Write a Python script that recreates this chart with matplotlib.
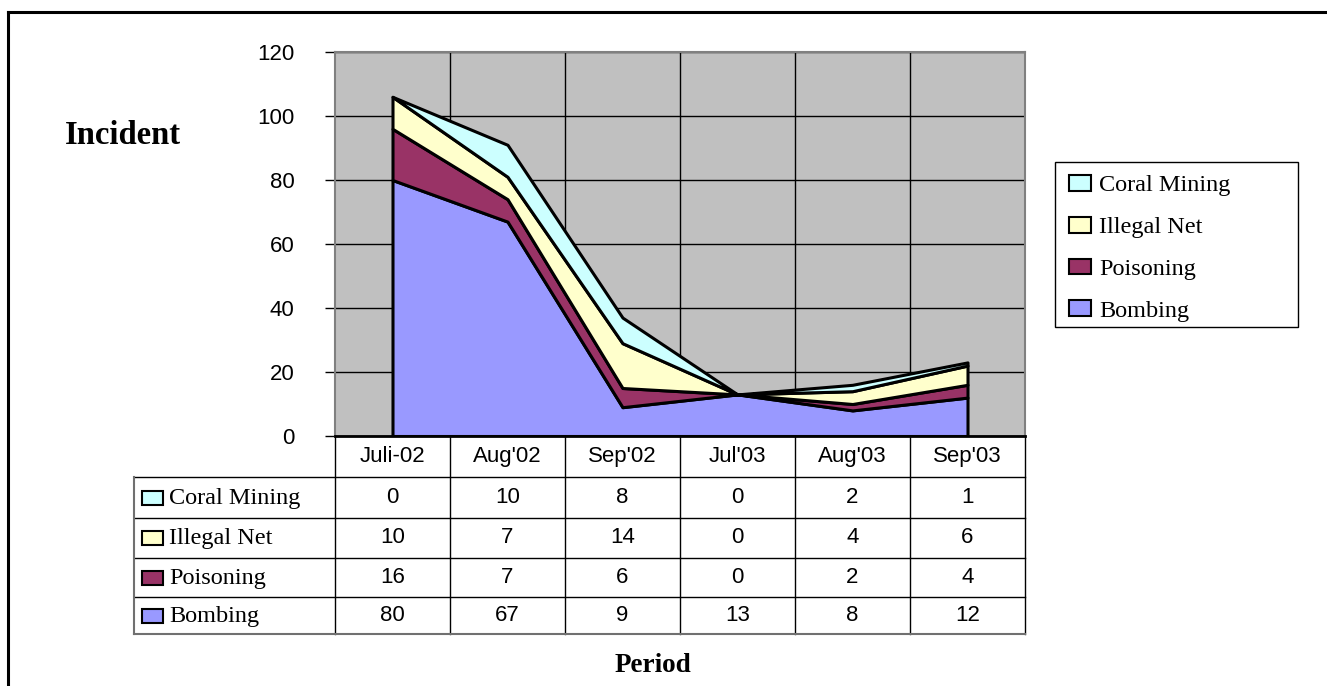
import matplotlib
matplotlib.use("Agg")
import matplotlib.pyplot as plt
import numpy as np
from matplotlib.patches import Patch, Rectangle
from matplotlib.lines import Line2D

# data
periods = ["Juli-02", "Aug'02", "Sep'02", "Jul'03", "Aug'03", "Sep'03"]
series = ["Bombing", "Poisoning", "Illegal Net", "Coral Mining"]
bombing = [80, 67, 9, 13, 8, 12]
poisoning = [16, 7, 6, 0, 2, 4]
illegal_net = [10, 7, 14, 0, 4, 6]
coral_mining = [0, 10, 8, 0, 2, 1]
colors = ["#9999FF", "#993366", "#FFFFCC", "#CCFFFF"]

W, H = 1327, 686
serif = "Liberation Serif"
sans = "Liberation Sans"

def box(l, t, r, b):
    return [l / W, 1 - b / H, (r - l) / W, (b - t) / H]

fig = plt.figure(figsize=(W / 100, H / 100), dpi=100)

# main area chart
ax = fig.add_axes(box(335, 52, 1025, 436))
x = np.arange(len(periods))
vals = [bombing, poisoning, illegal_net, coral_mining]
ax.stackplot(x, vals, colors=colors, edgecolor="black", linewidth=2.2, zorder=2)
ax.set_facecolor("#C0C0C0")
ax.set_xlim(-0.5, len(periods) - 0.5)
ax.set_ylim(0, 120)
ax.set_yticks(range(0, 121, 20))
ax.set_xticks([])
ax.set_xticks(np.arange(0.5, len(periods) - 1, 1), minor=True)
ax.set_axisbelow(True)
ax.grid(axis="y", which="major", color="black", lw=1)
ax.grid(axis="x", which="minor", color="black", lw=1)
ax.tick_params(axis="x", which="both", length=0, labelbottom=False)
ax.tick_params(axis="y", length=7, width=1, pad=22, labelsize=16)
for lab in ax.get_yticklabels():
    lab.set_fontfamily(sans)
for s in ["left", "top", "right"]:
    ax.spines[s].set_color("#808080")
    ax.spines[s].set_linewidth(1.5)
ax.spines["bottom"].set_color("black")
ax.spines["bottom"].set_linewidth(2)

# data table under the chart
rows_px = [436, 477, 518, 558, 597, 634]
left_px = 134
left_u = -0.5 - (335 - left_px) / 115.0
tab = fig.add_axes(box(left_px, 436, 1025, 634))
tab.set_xlim(left_u, len(periods) - 0.5)
tab.set_ylim(rows_px[-1], rows_px[0])
tab.axis("off")
for i in range(len(periods) + 1):
    tab.plot([i - 0.5, i - 0.5], [rows_px[0], rows_px[-1]], color="black", lw=1, clip_on=False)
for yy in rows_px[1:-1]:
    tab.plot([left_u, len(periods) - 0.5], [yy, yy], color="black", lw=1, clip_on=False)
tab.plot([left_u, len(periods) - 0.5], [rows_px[-1], rows_px[-1]], color="#707070", lw=1.5, clip_on=False)
tab.plot([left_u, left_u], [rows_px[1], rows_px[-1]], color="#707070", lw=1.5, clip_on=False)

for i, p in enumerate(periods):
    tab.text(i, (rows_px[0] + rows_px[1]) / 2, p, ha="center", va="center",
             fontsize=16, fontfamily=sans)

order = [3, 2, 1, 0]
for r, k in enumerate(order):
    yc = (rows_px[r + 1] + rows_px[r + 2]) / 2
    for i, v in enumerate(vals[k]):
        tab.text(i, yc, str(v), ha="center", va="center", fontsize=16, fontfamily=sans)
    tab.add_patch(Rectangle((left_u + 8 / 115.0, yc - 6.5), 21 / 115.0, 14,
                            facecolor=colors[k], edgecolor="black", lw=1.5, clip_on=False))
    tab.text(left_u + 35 / 115.0, yc + 1, series[k], ha="left", va="center",
             fontsize=17.5, fontfamily=serif)

# legend
handles = [Patch(facecolor=colors[k], edgecolor="black", lw=1.5, label=series[k]) for k in order]
fig.legend(handles=handles, loc="upper left", bbox_to_anchor=(1058 / W, 1 - 164 / H),
           bbox_transform=fig.transFigure, borderaxespad=0, frameon=False,
           prop={"family": serif, "size": 17.5}, handlelength=0.9, handleheight=0.62,
           handletextpad=0.35, labelspacing=0.84, borderpad=0.45)
fig.add_artist(Rectangle((1055 / W, 1 - 327 / H), (1298 - 1055) / W, (327 - 162) / H,
                         transform=fig.transFigure, facecolor="none", edgecolor="black", lw=1))

# axis titles
fig.text(123 / W, 1 - 135 / H, "Incident", ha="center", va="center",
         fontsize=23.5, fontweight="bold", fontfamily=serif)
fig.text(653 / W, 1 - 665 / H, "Period", ha="center", va="center",
         fontsize=19.5, fontweight="bold", fontfamily=serif)

# outer frame (top and left edges)
fig.add_artist(Line2D([8 / W, 8 / W], [0, 1 - 12 / H], color="black", lw=2.2))
fig.add_artist(Line2D([8 / W, 1], [1 - 12 / H, 1 - 12 / H], color="black", lw=2.2))

fig.savefig("out.png", dpi=100)
